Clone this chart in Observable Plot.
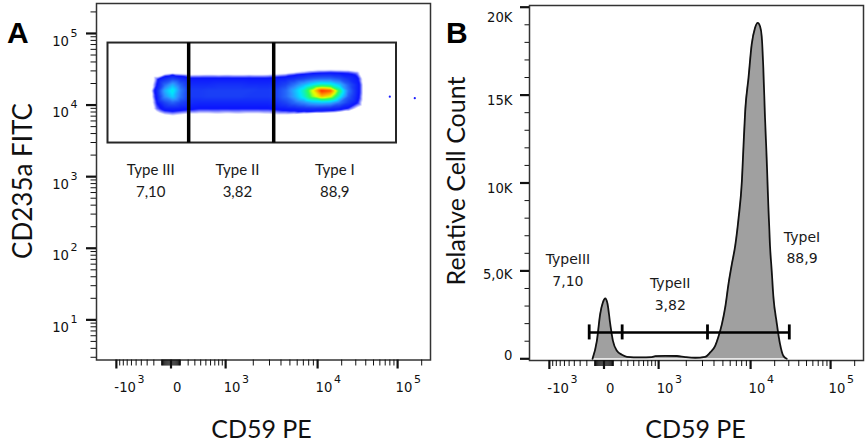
<!DOCTYPE html>
<html>
<head>
<meta charset="utf-8">
<script src="https://cdn.jsdelivr.net/npm/d3@7"></script>
<script src="https://cdn.jsdelivr.net/npm/@observablehq/plot@0.6"></script>
<style>
  html,body{margin:0;padding:0;background:#fff;}
  #wrap{position:relative;width:866px;height:443px;overflow:hidden;background:#fff;}
  .panel{position:absolute;top:0;}
  #overlay{position:absolute;left:0;top:0;pointer-events:none;}
</style>
</head>
<body>
<div id="wrap">
  <div id="panelA" class="panel" style="left:0px"></div>
  <div id="panelB" class="panel" style="left:433px"></div>
  <svg id="overlay" width="866" height="443" xmlns="http://www.w3.org/2000/svg">
    <text x="7" y="43.3" font-family="Liberation Sans, Arial, sans-serif" font-weight="bold" font-size="30" fill="#000">A</text>
    <text x="446" y="43.3" font-family="Liberation Sans, Arial, sans-serif" font-weight="bold" font-size="30" fill="#000">B</text>
    <text transform="translate(32,181) rotate(-90)" text-anchor="middle" font-family="Lato, sans-serif" font-size="26" fill="#111">CD235a FITC</text>
    <text transform="translate(465,181) rotate(-90)" text-anchor="middle" font-family="Lato, sans-serif" font-size="25" fill="#111">Relative Cell Count</text>
    <text x="261.5" y="438" text-anchor="middle" font-family="Lato, sans-serif" font-size="25" fill="#111">CD59 PE</text>
    <text x="695.5" y="438" text-anchor="middle" font-family="Lato, sans-serif" font-size="25" fill="#111">CD59 PE</text>
  </svg>
</div>
<script>
// ---------------- DATA ----------------
// Panel A: pseudocolor density of events (CD59 PE vs CD235a FITC)
const cd59Bins   = [-280, -160, -65, 15, 100, 220, 370, 560, 800, 1080, 1400, 1800, 2300, 2900, 3600, 4500, 5600, 7100, 8800, 11200, 14500, 18800, 24300, 31500, 41000];
const cd235aBins = [34300, 28300, 23300, 19200, 15900, 13100, 10800, 8900, 7300, 6000];
const densityRows = [
  [0,0,0,0,0,0,0,0,0,0,0,0,0,0,0,0,0,0,0,0,0,0,0,0,0],
  [0,0,0.2,0.4,0.3,0.2,0.25,0.3,0.25,0.3,0.25,0.3,0.25,0.3,0.3,0.4,0.55,0.7,0.85,0.95,1.0,0.95,0.9,0.7,0],
  [0,0.8,1.5,2.0,1.5,1.1,1.1,1.1,1.1,1.1,1.1,1.1,1.1,1.1,1.2,1.3,1.6,2.0,2.4,2.6,2.6,2.2,1.6,1.1,0],
  [0,1.0,2.6,3.7,2.5,1.5,1.5,1.5,1.6,1.6,1.6,1.5,1.5,1.5,1.6,2.0,2.8,3.8,4.6,5.2,5.0,4.0,2.4,1.3,0],
  [0,1.4,3.7,4.8,3.0,1.8,1.8,1.9,1.9,1.9,1.9,1.9,1.8,1.8,2.0,2.6,3.8,5.2,7.0,9.0,8.6,5.8,2.8,1.3,0],
  [0,1.2,3.2,4.2,2.8,1.8,1.8,1.9,1.9,1.9,1.9,1.8,1.8,1.8,2.0,2.6,3.6,4.9,6.5,7.6,7.0,4.8,2.4,1.2,0],
  [0,1.0,2.0,2.5,2.0,1.5,1.4,1.4,1.4,1.4,1.4,1.4,1.4,1.4,1.6,2.0,2.6,3.2,3.8,4.0,3.8,2.8,1.8,1.0,0],
  [0,0.8,1.2,1.3,1.2,1.1,1.0,1.0,1.0,1.0,1.0,1.0,1.0,1.0,1.1,1.2,1.3,1.5,1.6,1.5,1.4,1.2,0.9,0.4,0],
  [0,0.2,0.5,0.6,0.5,0.4,0.4,0.4,0.45,0.4,0.45,0.4,0.4,0.45,0.5,0.5,0.45,0.3,0.2,0.2,0.1,0,0,0,0],
  [0,0,0,0,0,0,0,0,0,0,0,0,0,0,0,0,0,0,0,0,0,0,0,0,0]
];
const densityLevels = [0, 0.5, 1, 2, 3.2, 4.5, 6, 7, 8, 9];
const densityColors = ["#ffffff","#ffffff","#0a14ff","#1c44f5","#2f8cff","#00e6ff","#2cff5a","#e8ff00","#ff9a00","#ff2a00"];
const strayCD59   = [79900, 164000];
const strayCD235a = [13100, 12500];

const gateNamesA   = ["Type III", "Type II", "Type I"];
const gateNamesB   = ["TypeIII", "TypeII", "TypeI"];
const gatePercents = ["7,10", "3,82", "88,9"];
const gateBoundsA  = [-1234, 207, 3333, 96900];   // CD59 gate edges (panel A)
const gateRangeYA  = [2950, 73500];               // CD235a gate range
const gateLabelXA  = [-245, 1344, 16400];
const gateLabelYA  = 930;

// Panel B: histogram of CD59 PE
const histCD59  = [-125,-74,-38,-11,12,35,64,95,143,210,285,527,805,898,1180,1580,1946,2499,3210,3638,4123,4444,4876,5295,5752,6262,6801,7387,8043,8373,8737,9489,10322,11350,12303,13107,13764,14410,15136,15890,16640,17480,18360,19220,21200,23310,25630,28270];
const histCount = [0,1020,2560,3200,3430,3130,1990,1020,455,230,115,85,100,150,170,160,100,60,115,360,740,1210,1970,2920,4260,5400,6420,7960,10110,12100,14090,15980,17880,18820,19110,18920,18350,16550,13710,11360,8750,6420,5000,3580,2050,850,170,0];
const gateBoundsB = [-168, 214, 3400, 30470];
const gateLevelB  = 1500;
const gateLabelXB = [-525, 1337, 43900];
const gateLabelYB = [5165, 3788, 6445];

// Axis ticks
const xMajor       = [-1000, 0, 1000, 10000, 100000];
const xMajorLabels = ["-10^3", "0", "10^3", "10^4", "10^5"];
const yMajorA       = [10, 100, 1000, 10000, 100000];
const yMajorLabelsA = ["10^1", "10^2", "10^3", "10^4", "10^5"];
const yMajorB       = [0, 5000, 10000, 15000, 20000];
const yMajorLabelsB = ["0", "5,0K", "10K", "15K", "20K"];

// ---------------- SCALE HELPERS ----------------
// FlowJo-like biexponential display transform (display units = px from zero)
function biex(v) {
  const a = Math.abs(v), s = Math.sign(v);
  let t;
  if (a <= 1000) t = 107.5 * Math.log10(1 + a / 450);
  else if (a <= 10000) t = 54.6 + 92 * Math.log10(a / 1000);
  else t = 146.6 + 80 * Math.log10(a / 10000);
  return s * t;
}
const xDomain = [-74.5, 259.5];

const xMinor = [];
for (let k = 2; k <= 9; k++) xMinor.push(-100 * k);
for (let k = -100; k <= 100; k += 10) if (k !== 0) xMinor.push(k);
for (const d of [100, 1000, 10000, 100000]) for (let k = 2; k <= 9; k++) if (k * d < 260000) xMinor.push(k * d);

const yMinorA = [];
for (const d of [1, 10, 100, 1000, 10000, 100000]) for (let k = 2; k <= 9; k++) { const v = k * d; if (v > 2.75 && v < 262144) yMinorA.push(v); }
const yMinorB = [];
for (let v = 1000; v < 20000; v += 1000) if (v % 5000 !== 0) yMinorB.push(v);

const tickFont = {fontFamily: "DejaVu Sans, Verdana, sans-serif", fontSize: 13.2, fill: "#111"};
const NS = "http://www.w3.org/2000/svg";

function xAxisMarks() {
  const nz = xMajor.filter(v => v !== 0);
  return [
    Plot.axisX({ticks: xMinor.map(biex), tickSize: 6, tickFormat: () => "", stroke: "#111", strokeWidth: 1, label: null}),
    Plot.axisX({ticks: xMajor.map(biex), tickSize: 9, tickFormat: () => "", stroke: "#111", strokeWidth: 2.2, label: null}),
    Plot.text(nz, {x: biex, text: v => xMajorLabels[xMajor.indexOf(v)], frameAnchor: "bottom", dy: 32, dx: -2, textAnchor: "start", ...tickFont}),
    Plot.text([0], {x: biex, text: v => xMajorLabels[xMajor.indexOf(v)], frameAnchor: "bottom", dy: 32, dx: 2, textAnchor: "start", ...tickFont})
  ];
}

function superscripts(svg, raise) {
  svg.querySelectorAll("text").forEach(t => {
    if (t.children.length) return;
    const s = t.textContent, i = s.indexOf("^");
    if (i < 0) return;
    t.textContent = s.slice(0, i);
    const sp = document.createElementNS(NS, "tspan");
    sp.setAttribute("dy", -raise);
    sp.setAttribute("dx", 1.5);
    sp.setAttribute("font-size", "11px");
    sp.textContent = s.slice(i + 1);
    t.appendChild(sp);
  });
}
function labelBoxes(svg, padX, padY) {
  svg.querySelectorAll('g[aria-label="gate-labels"] text').forEach(t => {
    const b = t.getBBox();
    const r = document.createElementNS(NS, "rect");
    r.setAttribute("x", b.x - padX); r.setAttribute("y", b.y - padY);
    r.setAttribute("width", b.width + 2 * padX); r.setAttribute("height", b.height + 2 * padY);
    r.setAttribute("fill", "#f5f5f5");
    if (t.getAttribute("transform")) r.setAttribute("transform", t.getAttribute("transform"));
    t.parentNode.insertBefore(r, t);
  });
}

// ---------------- PANEL A ----------------
const densityCells = [];
densityRows.forEach((row, j) => row.forEach((lv, i) => densityCells.push({cd59: cd59Bins[i], cd235a: cd235aBins[j], level: lv})));

const densityMark = Plot.raster
  ? Plot.raster(densityCells, {
      x: d => biex(d.cd59), y: "cd235a", fill: "level", interpolate: "barycentric",
      x1: biex(cd59Bins[0]), x2: biex(cd59Bins[cd59Bins.length - 1]),
      y1: cd235aBins[cd235aBins.length - 1], y2: cd235aBins[0]
    })
  : Plot.dot(densityCells.filter(d => d.level > 0.5), {x: d => biex(d.cd59), y: "cd235a", fill: "level", r: 5, symbol: "square"});

const yLabelsA = Plot.text(yMajorA, {y: d => d, text: (d, i) => yMajorLabelsA[i], frameAnchor: "left", dx: -19, dy: 8, textAnchor: "end", ...tickFont});

const plotA = Plot.plot({
  width: 433, height: 443,
  marginLeft: 96, marginRight: 3, marginTop: 3, marginBottom: 83.5,
  x: {domain: xDomain},
  y: {type: "log", domain: [2.75, 262144]},
  color: {type: "linear", domain: densityLevels, range: densityColors, interpolate: "rgb"},
  style: {background: "transparent", overflow: "visible"},
  marks: [
    densityMark,
    Plot.dot(strayCD59, {x: d => biex(d), y: (d, i) => strayCD235a[i], r: 1.1, fill: "#1a1aff"}),
    Plot.rect([gateBoundsA], {x1: d => biex(d[0]), x2: d => biex(d[3]), y1: gateRangeYA[0], y2: gateRangeYA[1], fill: "none", stroke: "#262626", strokeWidth: 2}),
    Plot.ruleX(gateBoundsA.slice(1, 3), {x: biex, y1: gateRangeYA[0], y2: gateRangeYA[1], stroke: "#000", strokeWidth: 3.5}),
    Plot.text(gateNamesA, {x: (d, i) => biex(gateLabelXA[i]), y: gateLabelYA, text: (d, i) => d + "\n" + gatePercents[i], fontFamily: "Lato, sans-serif", fontSize: 15, lineHeight: 1.45, fill: "#1a1a1a", ariaLabel: "gate-labels"}),
    Plot.frame({stroke: "#333", strokeWidth: 1.5}),
    ...xAxisMarks(),
    Plot.axisY({ticks: yMinorA, tickSize: 5.5, tickFormat: () => "", stroke: "#111", strokeWidth: 1, label: null}),
    Plot.axisY({ticks: yMajorA, tickSize: 10, tickFormat: () => "", stroke: "#111", strokeWidth: 2.2, label: null}),
    yLabelsA
  ]
});
document.getElementById("panelA").appendChild(plotA);

// ---------------- PANEL B ----------------
const yNudgeB = [-3, 3.7, 5.3, 5.5, 10.5];
const yLabelsB = yMajorB.map((v, i) => Plot.text([v], {y: d => d, text: () => yMajorLabelsB[i], frameAnchor: "left", dx: -17, dy: yNudgeB[i], textAnchor: "end", ...tickFont}));

const plotB = Plot.plot({
  width: 433, height: 443,
  marginLeft: 96, marginRight: 3, marginTop: 5, marginBottom: 83,
  x: {domain: xDomain},
  y: {domain: [-97, 20097]},
  style: {background: "transparent", overflow: "visible"},
  marks: [
    Plot.areaY(histCount, {x: (d, i) => biex(histCD59[i]), y: d => d, fill: "#a0a0a0", curve: "monotone-x"}),
    Plot.lineY(histCount, {x: (d, i) => biex(histCD59[i]), y: d => d, stroke: "#111", strokeWidth: 1.8, curve: "monotone-x"}),
    Plot.ruleY([gateLevelB], {x1: biex(gateBoundsB[0]), x2: biex(gateBoundsB[3]), y: d => d, stroke: "#000", strokeWidth: 2.5}),
    Plot.ruleX(gateBoundsB, {x: biex, y1: gateLevelB, y2: gateLevelB, insetTop: -7.5, insetBottom: -7.5, stroke: "#000", strokeWidth: 2.8}),
    Plot.text(gateNamesB, {x: (d, i) => biex(gateLabelXB[i]), y: (d, i) => gateLabelYB[i], text: (d, i) => d + "\n" + gatePercents[i], fontFamily: "DejaVu Sans, Verdana, sans-serif", fontSize: 14, lineHeight: 1.55, fill: "#1a1a1a", ariaLabel: "gate-labels"}),
    Plot.frame({stroke: "#333", strokeWidth: 1.5}),
    ...xAxisMarks(),
    Plot.axisY({ticks: yMinorB, tickSize: 4.5, tickFormat: () => "", stroke: "#111", strokeWidth: 1, label: null}),
    Plot.axisY({ticks: yMajorB, tickSize: 9, tickFormat: () => "", stroke: "#111", strokeWidth: 2.2, label: null}),
    ...yLabelsB
  ]
});
document.getElementById("panelB").appendChild(plotB);

// superscripts and label backgrounds
superscripts(plotA, 9);
superscripts(plotB, 10);
labelBoxes(plotA, 2, 4);
labelBoxes(plotB, 2, 5);
</script>
</body>
</html>
